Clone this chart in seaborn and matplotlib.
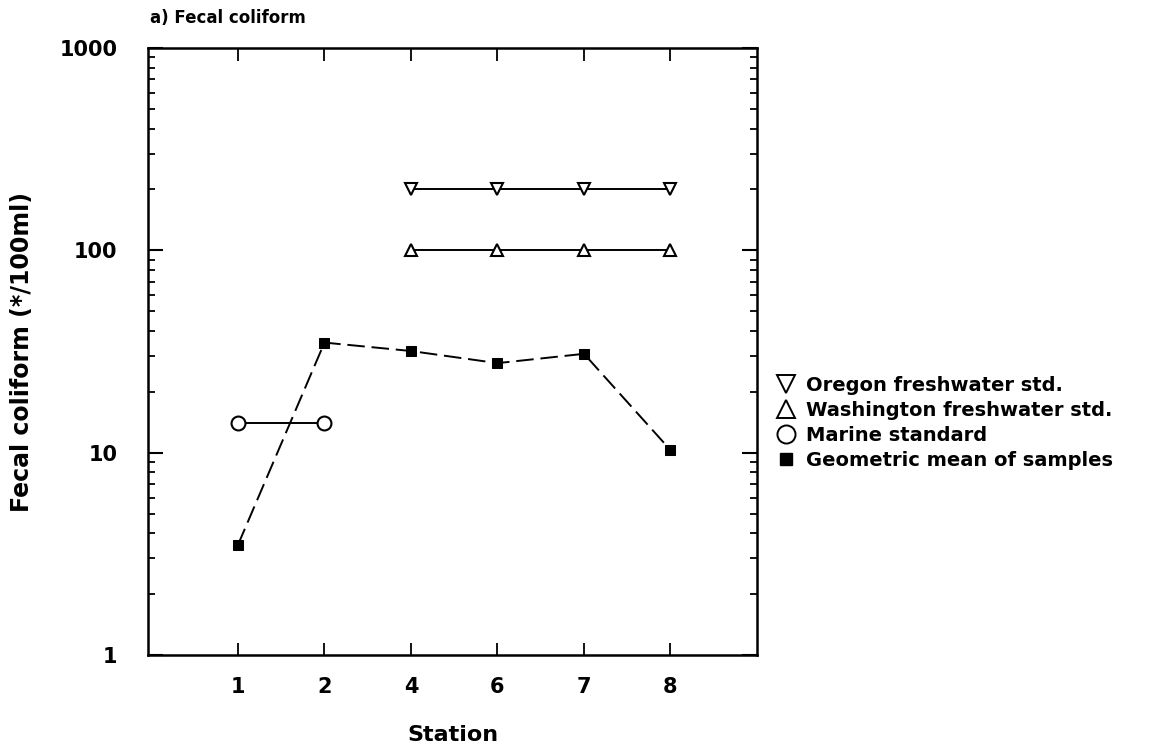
import matplotlib
matplotlib.use("Agg")
import matplotlib.pyplot as plt
import seaborn as sns
import pandas as pd
import numpy as np
from matplotlib.lines import Line2D
from matplotlib.ticker import LogLocator, NullFormatter, FixedLocator, FixedFormatter

sns.set_theme(style="ticks")
plt.rcParams['font.family'] = ['DejaVu Sans']
plt.rcParams['font.weight'] = 'bold'
plt.rcParams['text.color'] = 'black'
plt.rcParams['axes.labelcolor'] = 'black'
plt.rcParams['xtick.color'] = 'black'
plt.rcParams['ytick.color'] = 'black'

stations = ["1", "2", "4", "6", "7", "8"]
geo_mean = [3.5, 35, 31.8, 27.7, 30.8, 10.3]
oregon_stations = ["4", "6", "7", "8"]
oregon_std = [200, 200, 200, 200]
wash_stations = ["4", "6", "7", "8"]
wash_std = [100, 100, 100, 100]
marine_stations = ["1", "2"]
marine_std = [14, 14]
y_ticks = [1, 10, 100, 1000]
y_tick_labels = ["1", "10", "100", "1000"]

fig = plt.figure(figsize=(11.49, 7.53), dpi=100)
ax = fig.add_axes([148/1149, 1-655/753, 609/1149, 607/753])

df_geo = pd.DataFrame({"Station": stations, "Value": geo_mean})
df_or = pd.DataFrame({"Station": oregon_stations, "Value": oregon_std})
df_wa = pd.DataFrame({"Station": wash_stations, "Value": wash_std})
df_ma = pd.DataFrame({"Station": marine_stations, "Value": marine_std})

# geometric mean first establishes categorical order
sns.lineplot(data=df_geo, x="Station", y="Value", ax=ax, color="black", lw=1.4,
             marker="s", markersize=7.5, markerfacecolor="black", markeredgecolor="black",
             zorder=3)
ax.lines[-1].set_dashes([9, 3.5])
sns.lineplot(data=df_or, x="Station", y="Value", ax=ax, color="black", lw=1.4,
             marker="v", markersize=9, markerfacecolor="white", markeredgecolor="black",
             markeredgewidth=1.5, zorder=3)
sns.lineplot(data=df_wa, x="Station", y="Value", ax=ax, color="black", lw=1.4,
             marker="^", markersize=9, markerfacecolor="white", markeredgecolor="black",
             markeredgewidth=1.5, zorder=3)
sns.lineplot(data=df_ma, x="Station", y="Value", ax=ax, color="black", lw=1.4,
             marker="o", markersize=10, markerfacecolor="white", markeredgecolor="black",
             markeredgewidth=1.5, zorder=3)

ax.set_yscale("log")
ax.set_ylim(1, 1000)
ax.set_xlim(-1.04, 6.0)
ax.yaxis.set_major_locator(FixedLocator(y_ticks))
ax.yaxis.set_major_formatter(FixedFormatter(y_tick_labels))
ax.yaxis.set_minor_locator(LogLocator(base=10, subs=np.arange(2, 10)))
ax.yaxis.set_minor_formatter(NullFormatter())

for s in ax.spines.values():
    s.set_linewidth(1.8)
    s.set_color("black")

ax.tick_params(axis="y", which="major", direction="in", length=11, width=1.5,
               left=True, right=True, labelsize=15, pad=22, colors="black")
ax.tick_params(axis="y", which="minor", direction="in", length=5, width=1.3,
               left=True, right=True)
ax.tick_params(axis="x", which="major", direction="in", length=9, width=1.3,
               bottom=True, top=True, labelsize=15, pad=16, colors="black")
for lab in ax.get_xticklabels() + ax.get_yticklabels():
    lab.set_fontweight("bold")

ax.set_xlabel("Station", fontsize=16, fontweight="bold", color="black")
ax.set_ylabel("Fecal coliform (*/100ml)", fontsize=17, fontweight="bold", color="black")
ax.xaxis.set_label_coords(0.5, -(725-655)/607)
ax.yaxis.set_label_coords((34-148)/609, 0.5)

fig.text(150/1149, 1-18/753, "a) Fecal coliform", fontsize=12, fontweight="bold",
         ha="left", va="center", color="black")

handles = [
    Line2D([], [], ls="none", marker="v", markersize=13, markerfacecolor="white",
           markeredgecolor="black", markeredgewidth=1.4),
    Line2D([], [], ls="none", marker="^", markersize=13, markerfacecolor="white",
           markeredgecolor="black", markeredgewidth=1.4),
    Line2D([], [], ls="none", marker="o", markersize=13, markerfacecolor="white",
           markeredgecolor="black", markeredgewidth=1.4),
    Line2D([], [], ls="none", marker="s", markersize=9, markerfacecolor="black",
           markeredgecolor="black"),
]
labels = ["Oregon freshwater std.", "Washington freshwater std.",
          "Marine standard", "Geometric mean of samples"]
leg = fig.legend(handles, labels, loc="upper left", bbox_to_anchor=(776/1149, 1-376/753),
                 frameon=False, handlelength=1.0, handletextpad=0.55,
                 labelspacing=0.3, borderaxespad=0, borderpad=0,
                 prop={"weight": "bold", "size": 14})
for t in leg.get_texts():
    t.set_color("black")

fig.savefig("out.png", dpi=100)
